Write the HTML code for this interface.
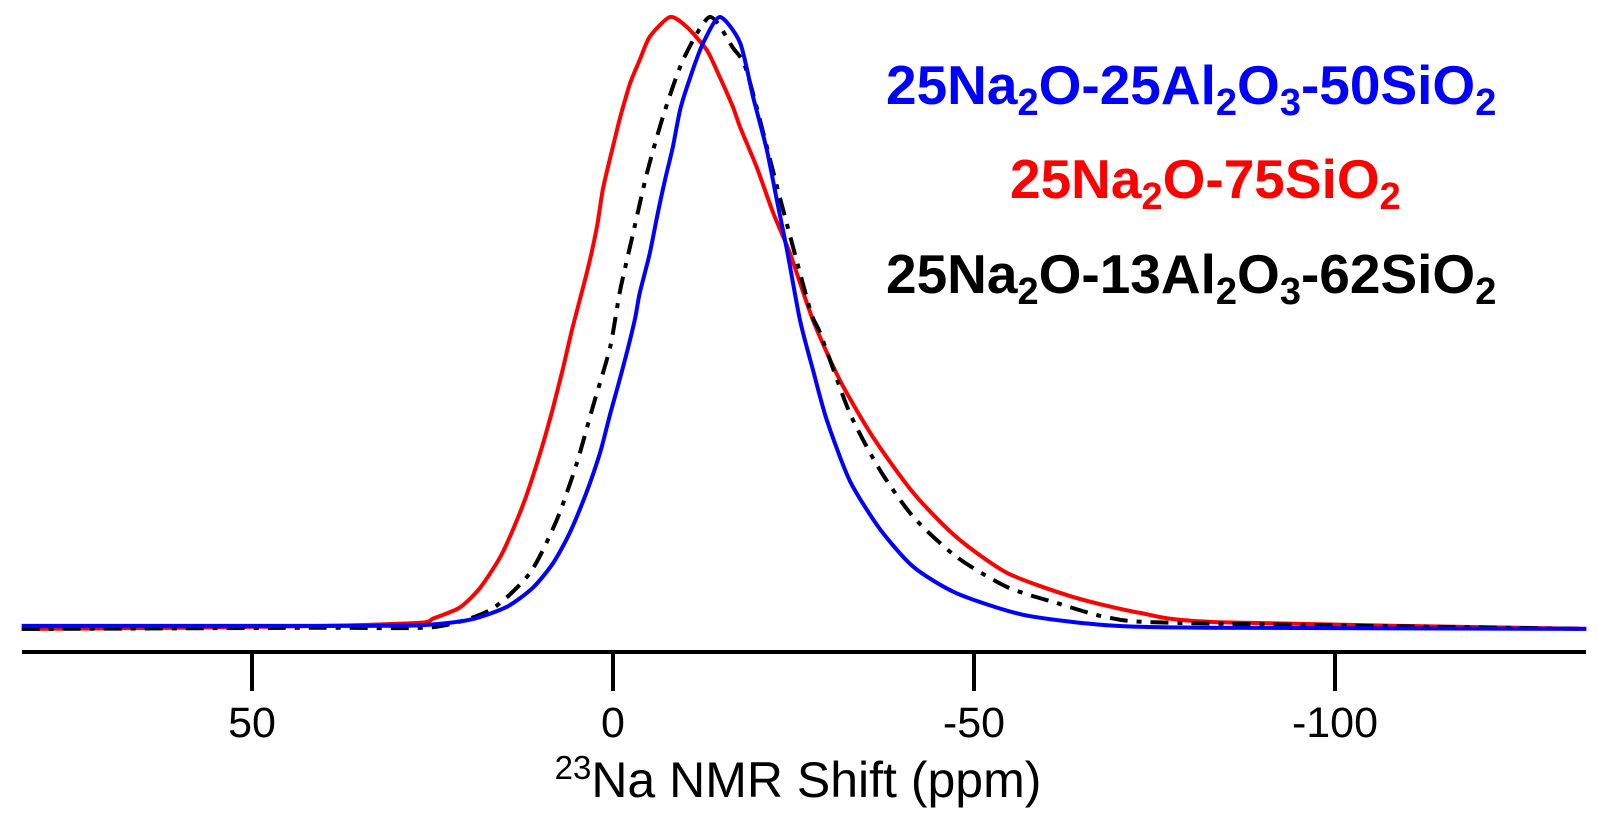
<!DOCTYPE html>
<html><head><meta charset="utf-8"><style>
html,body{margin:0;padding:0;background:#fff;}
svg{display:block;font-family:"Liberation Sans",Arial,sans-serif;}
</style></head><body>
<svg id="chart" width="1598" height="826" viewBox="0 0 1598 826">
<g id="series"></g>
<line x1="22" y1="652" x2="1586" y2="652" stroke="#000" stroke-width="4"/>
<g id="ticks"></g>
<text x="798" y="797" text-anchor="middle" font-size="50"><tspan font-size="33" dy="-18">23</tspan><tspan dy="18">Na NMR Shift (ppm)</tspan></text>
<text x="886" y="104" font-size="55" font-weight="bold" fill="#0000ff">25Na<tspan font-size="38" dy="11">2</tspan><tspan dy="-11">O-25Al</tspan><tspan font-size="38" dy="11">2</tspan><tspan dy="-11">O</tspan><tspan font-size="38" dy="11">3</tspan><tspan dy="-11">-50SiO</tspan><tspan font-size="38" dy="11">2</tspan></text>
<text x="1010" y="198" font-size="55" font-weight="bold" fill="#ff0000">25Na<tspan font-size="38" dy="11">2</tspan><tspan dy="-11">O-75SiO</tspan><tspan font-size="38" dy="11">2</tspan></text>
<text x="886" y="293" font-size="55" font-weight="bold" fill="#000">25Na<tspan font-size="38" dy="11">2</tspan><tspan dy="-11">O-13Al</tspan><tspan font-size="38" dy="11">2</tspan><tspan dy="-11">O</tspan><tspan font-size="38" dy="11">3</tspan><tspan dy="-11">-62SiO</tspan><tspan font-size="38" dy="11">2</tspan></text>
</svg>
<script>
const tickValues = [50, 0, -50, -100];
const tickLabels = ["50", "0", "-50", "-100"];
const blueShift = [81.9, 60, 40, 26.7, 19.8, 14.7, 11.1, 8.3, 6.0, 3.7, 1.8, 0.4, -1.4, -3.0, -3.7, -5.1, -6.2, -7.2, -8.3, -9.3, -10.7, -12.5, -14.8, -17.6, -19.4, -21.3, -22.7, -24.1, -25.9, -27.7, -29.6, -32.8, -37.0, -41.6, -47.6, -56.8, -68.4, -82.3, -134.8];
const blueInt   = [0.01, 0.01, 0.01, 0.011, 0.02, 0.041, 0.072, 0.112, 0.161, 0.226, 0.291, 0.354, 0.431, 0.507, 0.551, 0.616, 0.681, 0.735, 0.789, 0.849, 0.902, 0.958, 1.0, 0.958, 0.87, 0.784, 0.702, 0.621, 0.507, 0.426, 0.345, 0.246, 0.167, 0.106, 0.063, 0.028, 0.011, 0.007, 0.005];
const redShift = [81.9, 60, 40, 26.7, 24.9, 21.2, 18.4, 15.7, 13.9, 11.9, 9.6, 8.3, 6.9, 5.7, 3.5, 2.2, 1.4, 0.1, -1.0, -2.4, -3.7, -5.1, -7.9, -10.2, -13.0, -14.8, -16.6, -17.6, -19.9, -22.2, -24.5, -27.7, -31.4, -36.0, -41.6, -47.6, -54.6, -63.7, -73.0, -83.7, -134.8];
const redInt   = [0.005, 0.007, 0.01, 0.015, 0.022, 0.04, 0.072, 0.12, 0.165, 0.225, 0.31, 0.365, 0.43, 0.49, 0.59, 0.66, 0.72, 0.785, 0.837, 0.893, 0.93, 0.968, 1.0, 0.984, 0.946, 0.902, 0.854, 0.821, 0.756, 0.681, 0.616, 0.507, 0.41, 0.317, 0.226, 0.154, 0.096, 0.057, 0.031, 0.016, 0.005];
const blackShift = [81.9, 60, 40, 24.9, 17.0, 11.5, 7.8, 5.0, 2.8, 0.4, -1.0, -2.8, -4.7, -6.9, -9.7, -13.4, -16.6, -18.6, -23.1, -27.3, -28.7, -32.8, -37.0, -41.6, -47.6, -54.6, -61.5, -68.4, -77.6, -134.8];
const blackInt   = [0.005, 0.006, 0.007, 0.008, 0.036, 0.096, 0.182, 0.275, 0.366, 0.463, 0.556, 0.649, 0.746, 0.837, 0.93, 1.0, 0.95, 0.909, 0.707, 0.524, 0.486, 0.356, 0.263, 0.187, 0.122, 0.073, 0.047, 0.024, 0.015, 0.005];

const NS = "http://www.w3.org/2000/svg";
const xScale = p => 613 - p * 7.22;
const yScale = v => 632 - v * 615;

function pathFor(xs, ys) {
  const pts = xs.map((p, i) => [xScale(p), yScale(ys[i])]);
  let d = "M" + pts[0][0].toFixed(1) + "," + pts[0][1].toFixed(1);
  for (let i = 0; i < pts.length - 1; i++) {
    const p0 = pts[Math.max(0, i - 1)], p1 = pts[i], p2 = pts[i + 1], p3 = pts[Math.min(pts.length - 1, i + 2)];
    const t = 0.12;
    const c1x = p1[0] + (p2[0] - p0[0]) * t, c1y = p1[1] + (p2[1] - p0[1]) * t;
    const c2x = p2[0] - (p3[0] - p1[0]) * t, c2y = p2[1] - (p3[1] - p1[1]) * t;
    d += " C" + c1x.toFixed(1) + "," + c1y.toFixed(1) + " " + c2x.toFixed(1) + "," + c2y.toFixed(1) + " " + p2[0].toFixed(1) + "," + p2[1].toFixed(1);
  }
  return d;
}
const g = document.getElementById("series");
function addLine(xs, ys, color, name, dash) {
  const p = document.createElementNS(NS, "path");
  p.setAttribute("d", pathFor(xs, ys));
  p.setAttribute("fill", "none");
  p.setAttribute("stroke", color);
  p.setAttribute("stroke-width", "4");
  p.setAttribute("stroke-linejoin", "round");
  if (dash) p.setAttribute("stroke-dasharray", dash);
  
  
  g.appendChild(p);
}
addLine(redShift, redInt, "#ff0000", "series-25na2o-75sio2");
addLine(blackShift, blackInt, "#000000", "series-25na2o-13al2o3-62sio2", "18 9 5 9");
addLine(blueShift, blueInt, "#0000ff", "series-25na2o-25al2o3-50sio2");

const tg = document.getElementById("ticks");
tickValues.forEach((v, i) => {
  const l = document.createElementNS(NS, "line");
  l.setAttribute("x1", xScale(v)); l.setAttribute("x2", xScale(v));
  l.setAttribute("y1", 652); l.setAttribute("y2", 691);
  l.setAttribute("stroke", "#000"); l.setAttribute("stroke-width", "4");
  
  
  tg.appendChild(l);
  const t = document.createElementNS(NS, "text");
  t.setAttribute("x", xScale(v)); t.setAttribute("y", 737);
  t.setAttribute("text-anchor", "middle"); t.setAttribute("font-size", "43");
  t.textContent = tickLabels[i];
  
  
  tg.appendChild(t);
});
</script>
</body></html>
